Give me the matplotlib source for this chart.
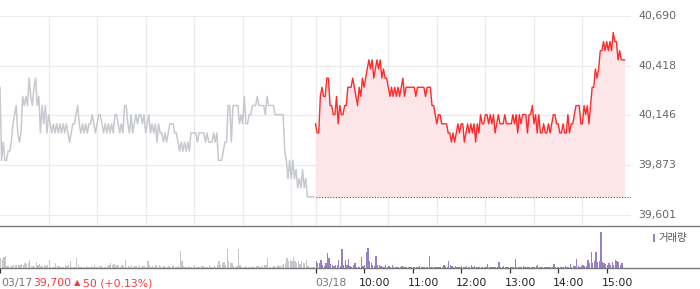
import matplotlib
matplotlib.use("Agg")
import matplotlib.pyplot as plt
import numpy as np
from matplotlib.lines import Line2D
from matplotlib.patches import Rectangle
from matplotlib.transforms import ScaledTranslation

plt.rcParams['font.family'] = ['DejaVu Sans', 'Noto Sans CJK KR']

# 2-minute samples, 09:00 - 15:30, prices in won
prev_day = [40300, 39900, 40000, 39900, 39900, 39950, 39950, 40000, 40100, 40150,
            40200, 40050, 40000, 40050, 40250, 40200, 40250, 40200, 40350, 40250,
            40200, 40300, 40350, 40200, 40250, 40050, 40200, 40100, 40200, 40050,
            40150, 40100, 40050, 40100, 40050, 40100, 40050, 40100, 40050, 40100,
            40050, 40100, 40050, 40000, 40050, 40100, 40100, 40150, 40200, 40100,
            40050, 40100, 40050, 40100, 40050, 40100, 40100, 40150, 40100, 40050,
            40100, 40150, 40150, 40100, 40050, 40100, 40050, 40100, 40050, 40100,
            40050, 40150, 40150, 40100, 40050, 40100, 40050, 40200, 40200, 40100,
            40050, 40150, 40050, 40100, 40150, 40100, 40150, 40150, 40100, 40150,
            40050, 40100, 40150, 40050, 40100, 40050, 40100, 40000, 40100, 40050,
            40050, 40000, 40050, 40000, 40050, 40100, 40100, 40100, 40050, 40050,
            40000, 39950, 40000, 39950, 40000, 39950, 40000, 39950, 40050, 40050,
            40050, 40050, 40000, 40050, 40050, 40050, 40050, 40000, 40050, 40000,
            40000, 40000, 40050, 40000, 40050, 39900, 39900, 39900, 39950, 40000,
            40000, 40200, 40200, 40000, 40200, 40200, 40200, 40200, 40100, 40150,
            40100, 40250, 40100, 40100, 40150, 40150, 40200, 40200, 40200, 40250,
            40200, 40200, 40200, 40200, 40150, 40250, 40200, 40200, 40200, 40200,
            40150, 40150, 40150, 40150, 40150, 40150, 39950, 39900, 39800, 39900,
            39800, 39900, 39800, 39850, 39750, 39800, 39750, 39850, 39750, 39800,
            39700, 39700, 39700, 39700, 39700]

today = [40100, 40050, 40050, 40250, 40300, 40250, 40250, 40350, 40350, 40200,
         40200, 40150, 40150, 40250, 40100, 40200, 40150, 40150, 40200, 40200,
         40300, 40300, 40300, 40350, 40300, 40250, 40200, 40300, 40250, 40350,
         40300, 40350, 40400, 40450, 40400, 40450, 40350, 40400, 40450, 40400,
         40450, 40350, 40400, 40350, 40350, 40300, 40250, 40300, 40250, 40300,
         40250, 40300, 40250, 40300, 40350, 40250, 40300, 40300, 40300, 40300,
         40300, 40300, 40250, 40300, 40300, 40300, 40300, 40300, 40250, 40300,
         40300, 40300, 40200, 40200, 40150, 40100, 40150, 40150, 40100, 40100,
         40100, 40100, 40050, 40050, 40000, 40050, 40000, 40050, 40100, 40050,
         40100, 40100, 40000, 40050, 40100, 40050, 40100, 40050, 40100, 40000,
         40100, 40050, 40150, 40100, 40100, 40150, 40150, 40100, 40150, 40100,
         40150, 40050, 40100, 40150, 40100, 40100, 40100, 40150, 40100, 40100,
         40100, 40100, 40150, 40100, 40150, 40050, 40150, 40100, 40150, 40150,
         40150, 40050, 40150, 40150, 40200, 40100, 40150, 40050, 40150, 40050,
         40050, 40100, 40050, 40050, 40100, 40050, 40100, 40150, 40150, 40100,
         40100, 40050, 40050, 40100, 40050, 40050, 40150, 40050, 40100, 40100,
         40150, 40200, 40200, 40200, 40100, 40100, 40200, 40150, 40200, 40100,
         40200, 40300, 40300, 40400, 40350, 40400, 40500, 40500, 40550, 40500,
         40550, 40500, 40550, 40500, 40600, 40550, 40550, 40450, 40500, 40450,
         40450, 40450]

prev_vol = [30, 26, 32, 36, 6, 5, 4, 6, 8, 10,
            8, 10, 8, 12, 8, 14, 12, 16, 24, 6,
            5, 4, 18, 8, 12, 5, 6, 8, 6, 8,
            24, 4, 3, 4, 14, 6, 5, 3, 4, 3,
            10, 6, 8, 22, 3, 4, 2, 30, 10, 3,
            2, 4, 3, 5, 3, 4, 6, 3, 8, 4,
            3, 5, 6, 3, 2, 4, 6, 10, 14, 8,
            12, 6, 10, 8, 4, 8, 6, 24, 4, 6,
            3, 8, 4, 6, 5, 4, 8, 3, 6, 5,
            4, 20, 10, 4, 6, 3, 8, 4, 10, 5,
            3, 6, 4, 3, 5, 4, 6, 8, 4, 3,
            5, 51, 21, 6, 4, 3, 5, 3, 4, 2,
            8, 3, 4, 3, 5, 6, 4, 3, 4, 8,
            4, 3, 6, 4, 10, 22, 8, 16, 18, 8,
            57, 20, 16, 14, 6, 4, 6, 57, 8, 3,
            4, 3, 5, 4, 3, 6, 4, 3, 5, 6,
            4, 3, 8, 10, 8, 29, 4, 3, 4, 6,
            3, 8, 5, 6, 8, 12, 16, 30, 20, 24,
            22, 34, 20, 16, 22, 12, 20, 14, 16, 23,
            6, 4, 3, 4, 3]

today_vol = [20, 14, 16, 24, 10, 6, 14, 45, 30, 12,
             8, 6, 10, 8, 25, 6, 57, 10, 24, 8,
             27, 6, 4, 8, 15, 4, 3, 4, 33, 6,
             8, 49, 60, 20, 16, 8, 6, 36, 10, 8,
             5, 3, 4, 8, 4, 6, 3, 8, 4, 3,
             4, 3, 2, 6, 3, 4, 2, 3, 2, 3,
             2, 4, 3, 2, 5, 3, 2, 3, 4, 2,
             36, 4, 3, 2, 3, 4, 3, 2, 4, 8,
             6, 4, 21, 8, 6, 4, 6, 3, 4, 2,
             6, 3, 4, 6, 3, 4, 8, 4, 6, 3,
             2, 4, 3, 2, 3, 4, 12, 4, 3, 4,
             2, 3, 4, 18, 3, 4, 6, 3, 2, 4,
             3, 2, 3, 27, 3, 2, 4, 3, 6, 4,
             2, 3, 4, 2, 4, 3, 6, 8, 3, 4,
             2, 4, 3, 2, 3, 4, 3, 12, 3, 4,
             2, 3, 4, 3, 6, 3, 4, 12, 4, 6,
             5, 27, 6, 4, 6, 8, 5, 6, 24, 14,
             48, 16, 22, 48, 18, 22, 108, 18, 14, 12,
             10, 14, 8, 18, 10, 25, 22, 18, 8, 14]

prev_close = 39700
price_ticks = [39601, 39873, 40146, 40418, 40690]
session_min = 390
time_labels = ['03/18', '10:00', '11:00', '12:00', '13:00', '14:00', '15:00']

gray_line = '#c6c9ce'
red = '#ff2a2a'
purple = '#9880c6'

t_prev = np.arange(len(prev_day)) * 2
t_today = session_min + np.arange(len(today)) * 2
tv_prev = np.arange(len(prev_vol)) * 2
tv_today = session_min + np.arange(len(today_vol)) * 2

W, H = 700, 289
fig = plt.figure(figsize=(W / 100, H / 100), dpi=100)

# price panel
px_per_won = (price_ticks[-1] - price_ticks[0]) / 199.0
ax = fig.add_axes([0, 64 / H, 631 / W, 209 / H])
ax.set_xlim(0, 2 * session_min)
ax.set_ylim(price_ticks[0] - 10 * px_per_won, price_ticks[-1])
for s in ax.spines.values():
    s.set_visible(False)
ax.set_yticks(price_ticks)
ax.set_xticks(list(range(60, 2 * session_min, 60)) + [session_min])
ax.tick_params(left=False, bottom=False, labelleft=False, labelbottom=False)
ax.grid(True, color='#ebebeb', lw=0.9)
ax.set_axisbelow(True)

ax.plot(t_prev, prev_day, color=gray_line, lw=1.1)
ax.fill_between(t_today, today, prev_close, color='#fde5e8', lw=0)
ax.plot(t_today, today, color=red, lw=1.0)
ax.plot([session_min, 2 * session_min], [prev_close, prev_close],
        color='#555555', lw=0.8, ls=(0, (1, 1.5)))

for p in price_ticks:
    ax.text(1.012, p, f'{p:,}', transform=ax.get_yaxis_transform(),
            ha='left', va='center', fontsize=7.8, color='#666666')

# volume panel
vax = fig.add_axes([0, 21 / H, 631 / W, 42 / H])
vax.set_xlim(0, 2 * session_min)
vax.set_ylim(0, 126)
for s in vax.spines.values():
    s.set_visible(False)
vax.bar(tv_prev, prev_vol, width=1.6, align='edge', color='#c4c7cb', lw=0)
vax.bar(tv_today, today_vol, width=1.6, align='edge', color=purple, lw=0)
vax.set_yticks([])
vax.set_xticks([0, session_min] + list(range(session_min + 60, 2 * session_min, 60)))
vax.tick_params(axis='x', length=3.5, width=0.9, color='#333333', labelbottom=False)

for k, lab in enumerate(time_labels):
    xpos = session_min + 60 * k
    off = 0 if k == 0 else -5
    tr = vax.get_xaxis_transform() + ScaledTranslation(off / 100, 0, fig.dpi_scale_trans)
    vax.text(xpos, -0.35, lab, transform=tr, ha='left', va='center', fontsize=7.8,
             color='#777777' if k == 0 else '#222222')

# separator and baseline lines across the full width
fig.add_artist(Line2D([0, 1], [1 - 225.5 / H, 1 - 225.5 / H], color='#777777', lw=1.0))
fig.add_artist(Line2D([0, 1], [1 - 268 / H, 1 - 268 / H], color='#777777', lw=1.0))

# previous close text
yb = 1 - 283 / H
fig.text(1 / W, yb, '03/17', ha='left', va='center', fontsize=7.8, color='#777777')
fig.text(33 / W, yb, '39,700', ha='left', va='center', fontsize=7.8, color='#f23c3c')
fig.text(74 / W, yb, '▲', ha='left', va='center', fontsize=6, color='#f23c3c')
fig.text(83 / W, yb, '50 (+0.13%)', ha='left', va='center', fontsize=7.8, color='#f23c3c')

# volume legend
fig.add_artist(Rectangle((652.5 / W, 1 - 242 / H), 2.5 / W, 8.5 / H,
                         transform=fig.transFigure, color=purple, lw=0))
fig.text(658 / W, 1 - 238 / H, '거래량', ha='left', va='center', fontsize=7.5,
         color='#555555', family=['Noto Sans CJK KR', 'DejaVu Sans'])

fig.savefig('out.png', dpi=100)
